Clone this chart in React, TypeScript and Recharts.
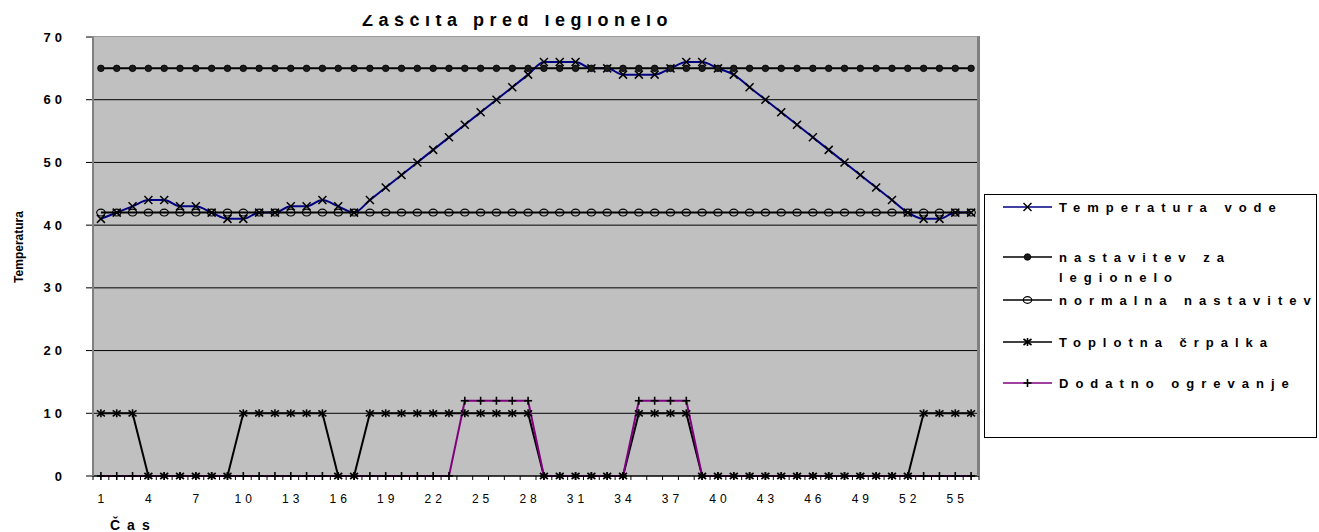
import React from 'react';
import { LineChart, Line, XAxis, YAxis, CartesianGrid, ReferenceLine } from 'recharts';

// Čas (hours) on the category axis
const casLabels = [
  '1', '2', '3', '4', '5', '6', '7', '8', '9', '10',
  '11', '12', '13', '14', '15', '16', '17', '18', '19', '20',
  '21', '22', '23', '24', '25', '26', '27', '28', '29', '30',
  '31', '32', '33', '34', '35', '36', '37', '38', '39', '40',
  '41', '42', '43', '44', '45', '46', '47', '48', '49', '50',
  '51', '52', '53', '54', '55', '56',
];

const temperaturaVode = [
  41, 42, 43, 44, 44, 43, 43, 42, 41, 41,
  42, 42, 43, 43, 44, 43, 42, 44, 46, 48,
  50, 52, 54, 56, 58, 60, 62, 64, 66, 66,
  66, 65, 65, 64, 64, 64, 65, 66, 66, 65,
  64, 62, 60, 58, 56, 54, 52, 50, 48, 46,
  44, 42, 41, 41, 42, 42,
];

const nastavitevLegionelo = [
  65, 65, 65, 65, 65, 65, 65, 65, 65, 65,
  65, 65, 65, 65, 65, 65, 65, 65, 65, 65,
  65, 65, 65, 65, 65, 65, 65, 65, 65, 65,
  65, 65, 65, 65, 65, 65, 65, 65, 65, 65,
  65, 65, 65, 65, 65, 65, 65, 65, 65, 65,
  65, 65, 65, 65, 65, 65,
];

const normalnaNastavitev = [
  42, 42, 42, 42, 42, 42, 42, 42, 42, 42,
  42, 42, 42, 42, 42, 42, 42, 42, 42, 42,
  42, 42, 42, 42, 42, 42, 42, 42, 42, 42,
  42, 42, 42, 42, 42, 42, 42, 42, 42, 42,
  42, 42, 42, 42, 42, 42, 42, 42, 42, 42,
  42, 42, 42, 42, 42, 42,
];

const toplotnaCrpalka = [
  10, 10, 10, 0, 0, 0, 0, 0, 0, 10,
  10, 10, 10, 10, 10, 0, 0, 10, 10, 10,
  10, 10, 10, 10, 10, 10, 10, 10, 0, 0,
  0, 0, 0, 0, 10, 10, 10, 10, 0, 0,
  0, 0, 0, 0, 0, 0, 0, 0, 0, 0,
  0, 0, 10, 10, 10, 10,
];

const dodatnoOgrevanje = [
  0, 0, 0, 0, 0, 0, 0, 0, 0, 0,
  0, 0, 0, 0, 0, 0, 0, 0, 0, 0,
  0, 0, 0, 12, 12, 12, 12, 12, 0, 0,
  0, 0, 0, 0, 12, 12, 12, 12, 0, 0,
  0, 0, 0, 0, 0, 0, 0, 0, 0, 0,
  0, 0, 0, 0, 0, 0,
];

const yTicks = [0, 10, 20, 30, 40, 50, 60, 70];
const gridValues = [10, 20, 30, 40, 50, 60];

const data = casLabels.map((cas, i) => ({
  cas,
  temp: temperaturaVode[i],
  leg: nastavitevLegionelo[i],
  norm: normalnaNastavitev[i],
  crp: toplotnaCrpalka[i],
  dod: dodatnoOgrevanje[i],
}));

const FONT = 'Arial, "Liberation Sans", Helvetica, sans-serif';
const W = 1319;
const H = 532;
const PLOT_LEFT = 93;
const PLOT_RIGHT = 979;
const PLOT_TOP = 37;
const PLOT_BOTTOM = 476;
const Y_AXIS_W = 60;
const X_AXIS_H = 30;
const band = (PLOT_RIGHT - PLOT_LEFT) / casLabels.length;

// ---- marker shapes (plot and legend) ----
type M = { cx: number; cy: number };

function XMark({ cx, cy }: M) {
  const s = 4;
  return (
    <g stroke="#000" strokeWidth={1.5}>
      <line x1={cx - s} y1={cy - s} x2={cx + s} y2={cy + s} />
      <line x1={cx - s} y1={cy + s} x2={cx + s} y2={cy - s} />
    </g>
  );
}

function FilledDot({ cx, cy }: M) {
  return <circle cx={cx} cy={cy} r={3.3} fill="#1a1a1a" stroke="#000" strokeWidth={0.8} />;
}

function HollowDot({ cx, cy }: M) {
  return <ellipse cx={cx} cy={cy} rx={4.2} ry={3.4} fill="none" stroke="#000" strokeWidth={1.2} />;
}

function StarMark({ cx, cy }: M) {
  const s = 4;
  return (
    <g stroke="#000" strokeWidth={1.6}>
      <line x1={cx - s} y1={cy - s + 1} x2={cx + s} y2={cy + s - 1} />
      <line x1={cx - s} y1={cy + s - 1} x2={cx + s} y2={cy - s + 1} />
      <line x1={cx} y1={cy - s} x2={cx} y2={cy + s} />
    </g>
  );
}

function PlusMark({ cx, cy }: M) {
  const s = 4;
  return (
    <g stroke="#000" strokeWidth={1.6}>
      <line x1={cx - s} y1={cy} x2={cx + s} y2={cy} />
      <line x1={cx} y1={cy - s} x2={cx} y2={cy + s} />
    </g>
  );
}

const dotWith = (Shape: (m: M) => React.ReactElement, prefix: string) => (p: any) =>
  <Shape key={`${prefix}-${p.index}`} cx={p.cx} cy={p.cy} />;

// ---- axes ticks ----
function CasTick(props: any) {
  const { x, y, payload, index } = props;
  const cx = payload.coordinate ?? x;
  const left = cx - band / 2;
  return (
    <g>
      <line x1={left} y1={y} x2={left} y2={y + 4} stroke="#000" />
      {index === casLabels.length - 1 && (
        <line x1={cx + band / 2} y1={y} x2={cx + band / 2} y2={y + 4} stroke="#000" />
      )}
      {index % 3 === 0 && (
        <text
          x={cx + 2}
          y={y + 27}
          textAnchor="middle"
          fontFamily={FONT}
          fontSize={12}
          letterSpacing={4}
          fill="#000"
        >
          {payload.value}
        </text>
      )}
    </g>
  );
}

function TempTick(props: any) {
  const { payload } = props;
  return (
    <text
      x={66}
      y={payload.coordinate + 4.6}
      textAnchor="end"
      fontFamily={FONT}
      fontSize={13}
      fontWeight="bold"
      letterSpacing={4}
      fill="#000"
    >
      {payload.value}
    </text>
  );
}

// ---- legend ----
const legendItems = [
  { lines: ['Temperatura vode'], color: '#000080', Shape: XMark },
  { lines: ['nastavitev za', 'legionelo'], color: '#000', Shape: FilledDot },
  { lines: ['normalna nastavitev'], color: '#000', Shape: HollowDot },
  { lines: ['Toplotna črpalka'], color: '#000', Shape: StarMark },
  { lines: ['Dodatno ogrevanje'], color: '#800080', Shape: PlusMark },
];
const legendRowY = [13, 63, 106, 148, 189];

function Legend() {
  return (
    <svg
      width={333}
      height={244}
      style={{ position: 'absolute', left: 984, top: 194 }}
    >
      <rect x={0.5} y={0.5} width={332} height={243} fill="#fff" stroke="#000" />
      {legendItems.map((item, i) => {
        const cy = legendRowY[i];
        const Shape = item.Shape;
        return (
          <g key={i}>
            <line x1={19} y1={cy} x2={68} y2={cy} stroke={item.color} strokeWidth={1.5} />
            <Shape cx={43.5} cy={cy} />
            {item.lines.map((t, j) => (
              <text
                key={j}
                x={75}
                y={cy + 4.6 + j * 20}
                fontFamily={FONT}
                fontSize={13}
                fontWeight="bold"
                letterSpacing={7}
                fill="#000"
              >
                {t}
              </text>
            ))}
          </g>
        );
      })}
    </svg>
  );
}

export default function App() {
  return (
    <div
      style={{
        position: 'absolute',
        left: 0,
        top: 0,
        width: W,
        height: H,
        background: '#fff',
        fontFamily: FONT,
        overflow: 'hidden',
      }}
    >
      {/* title, its top edge is cut off as in the source picture */}
      <svg width={W} height={20} style={{ position: 'absolute', left: 0, top: 15 }}>
        <text
          x={362}
          y={11}
          fontFamily={FONT}
          fontSize={18}
          fontWeight="bold"
          letterSpacing={5.5}
          fill="#000"
        >
          Zaščita pred legionelo
        </text>
      </svg>

      <LineChart
        width={W}
        height={H}
        data={data}
        margin={{
          top: PLOT_TOP,
          right: W - PLOT_RIGHT,
          bottom: H - PLOT_BOTTOM - X_AXIS_H,
          left: PLOT_LEFT - Y_AXIS_W,
        }}
        style={{ position: 'absolute', left: 0, top: 0 }}
      >
        <CartesianGrid horizontal={false} vertical={false} fill="#C0C0C0" />
        {gridValues.map((v) => (
          <ReferenceLine key={v} y={v} stroke="#000" strokeWidth={1} />
        ))}
        <XAxis
          dataKey="cas"
          height={X_AXIS_H}
          interval={0}
          padding={{ left: band / 2, right: band / 2 }}
          tickSize={0}
          tickMargin={0}
          tickLine={false}
          axisLine={{ stroke: '#000', strokeWidth: 1.5 }}
          tick={<CasTick />}
        />
        <YAxis
          width={Y_AXIS_W}
          domain={[0, 70]}
          ticks={yTicks}
          interval={0}
          tickSize={7}
          tickLine={{ stroke: '#000' }}
          axisLine={false}
          tick={<TempTick />}
        />
        <Line
          dataKey="temp"
          name="Temperatura vode"
          type="monotone"
          stroke="#000080"
          strokeWidth={2}
          dot={dotWith(XMark, 't')}
          isAnimationActive={false}
        />
        <Line
          dataKey="leg"
          name="nastavitev za legionelo"
          type="linear"
          stroke="#000"
          strokeWidth={2}
          dot={dotWith(FilledDot, 'l')}
          isAnimationActive={false}
        />
        <Line
          dataKey="norm"
          name="normalna nastavitev"
          type="linear"
          stroke="#000"
          strokeWidth={2}
          dot={dotWith(HollowDot, 'n')}
          isAnimationActive={false}
        />
        <Line
          dataKey="crp"
          name="Toplotna črpalka"
          type="linear"
          stroke="#000"
          strokeWidth={2}
          dot={dotWith(StarMark, 'c')}
          isAnimationActive={false}
        />
        <Line
          dataKey="dod"
          name="Dodatno ogrevanje"
          type="linear"
          stroke="#800080"
          strokeWidth={2}
          dot={dotWith(PlusMark, 'd')}
          isAnimationActive={false}
        />
      </LineChart>

      {/* plot area frame */}
      <div
        style={{
          position: 'absolute',
          left: 92,
          top: 36,
          width: 888,
          height: 440,
          boxSizing: 'border-box',
          borderLeft: '2px solid #808080',
          borderTop: '1px solid #9a9a9a',
          borderRight: '3px solid #808080',
          pointerEvents: 'none',
        }}
      />

      {/* axis titles */}
      <svg width={40} height={120} style={{ position: 'absolute', left: 0, top: 187 }}>
        <text
          x={0}
          y={0}
          transform="translate(23 60) rotate(-90)"
          textAnchor="middle"
          fontFamily={FONT}
          fontSize={12}
          fontWeight="bold"
          fill="#000"
        >
          Temperatura
        </text>
      </svg>
      <svg width={120} height={30} style={{ position: 'absolute', left: 100, top: 502 }}>
        <text
          x={10}
          y={28}
          fontFamily={FONT}
          fontSize={14}
          fontWeight="bold"
          letterSpacing={7}
          fill="#000"
        >
          Čas
        </text>
      </svg>

      <Legend />
    </div>
  );
}
